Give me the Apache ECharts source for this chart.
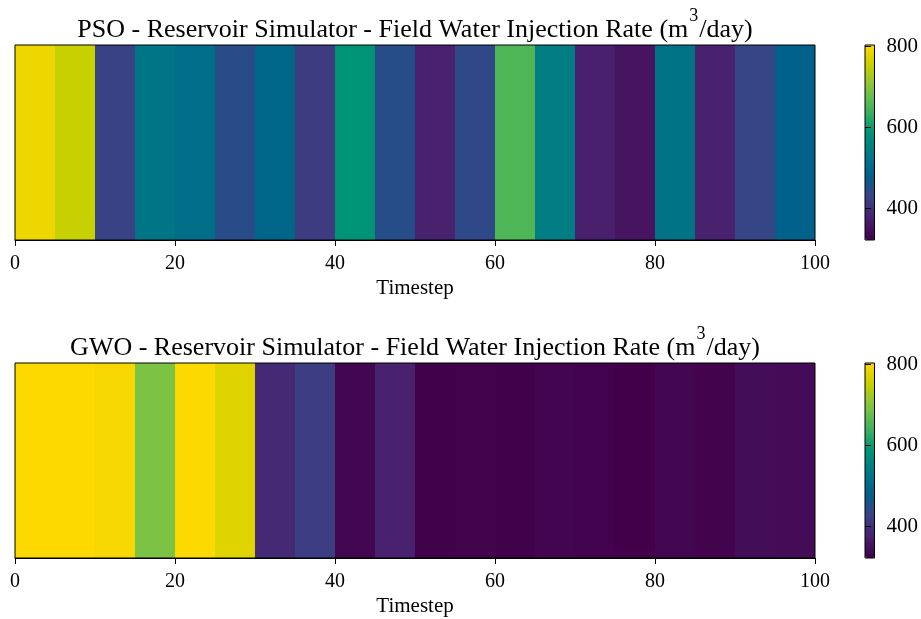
<!DOCTYPE html>
<html>
<head>
<meta charset="utf-8">
<script src="https://cdn.jsdelivr.net/npm/echarts@6/dist/echarts.min.js"></script>
<style>
  html, body { margin: 0; padding: 0; background: #ffffff; }
  #chart { width: 921px; height: 619px; }
</style>
</head>
<body>
<div id="chart"></div>
<script>
// Segment boundaries along the timestep axis (20 control intervals of 5 steps)
const timestepEdges = [0, 5, 10, 15, 20, 25, 30, 35, 40, 45, 50, 55, 60, 65, 70, 75, 80, 85, 90, 95, 100];

// Field water injection rate per interval (m3/day)
const psoRates = [790, 753, 428, 526, 512, 446, 497, 418, 590, 448,
                  377, 439, 656, 544, 376, 355, 522, 377, 433, 486];
const gwoRates = [804, 804, 797, 693, 803, 777, 391, 420, 332, 377,
                  324, 325, 323, 330, 326, 322, 332, 327, 343, 340];

// Shared colour scale limits and colour bar ticks
const rateMin = 322;
const rateMax = 804;
const colorbarTicks = [400, 600, 800];

// x axis ticks
const xMin = 0;
const xMax = 100;
const xInterval = 20;

// viridis-style ramp, dark purple -> teal -> yellow
const rampColors = ['#42004a', '#48206e', '#3a4386', '#005f8b', '#007a85',
                    '#009477', '#40b25e', '#80c343', '#c4d000', '#fdd900'];

const FONT = '"Liberation Serif", "DejaVu Serif", serif';

function toSegments(rates) {
  return rates.map((v, i) => [timestepEdges[i], timestepEdges[i + 1], v]);
}

function renderSegment(params, api) {
  const p0 = api.coord([api.value(0), 1]);
  const p1 = api.coord([api.value(1), 0]);
  return {
    type: 'rect',
    shape: { x: p0[0], y: p0[1], width: p1[0] - p0[0], height: p1[1] - p0[1] },
    style: { fill: api.visual('color') }
  };
}

function titleName(method) {
  return '{t|' + method + ' - Reservoir Simulator - Field Water Injection Rate (m}{s|3}{t|/day)}';
}

const titleStyle = {
  color: '#000',
  fontFamily: FONT,
  fontSize: 26,
  rich: {
    t: { fontFamily: FONT, fontSize: 26, color: '#000' },
    s: { fontFamily: FONT, fontSize: 18, color: '#000', padding: [0, 1, 28, 1] }
  }
};

const plotBoxes = [
  { left: 15, top: 45, width: 800, height: 195 },
  { left: 15, top: 363, width: 800, height: 195 }
];
const barBoxes = [
  { left: 865, top: 45, width: 10, height: 195 },
  { left: 865, top: 363, width: 10, height: 195 }
];

const grids = [];
const xAxes = [];
const yAxes = [];
const visualMaps = [];
const series = [];
const methods = ['PSO', 'GWO'];
const rateSets = [psoRates, gwoRates];

methods.forEach((m, k) => {
  const plotGrid = grids.length;
  grids.push(Object.assign({ show: true, borderColor: '#000', borderWidth: 1, backgroundColor: 'transparent', z: 10 }, plotBoxes[k]));
  // bottom timestep axis
  xAxes.push({
    gridIndex: plotGrid, type: 'value', position: 'bottom',
    min: xMin, max: xMax, interval: xInterval,
    axisLine: { show: true, lineStyle: { color: '#000', width: 1 } },
    axisTick: { show: true, inside: false, length: 6, lineStyle: { color: '#000' } },
    axisLabel: { color: '#000', fontFamily: FONT, fontSize: 20, margin: 14 },
    splitLine: { show: false },
    name: 'Timestep', nameLocation: 'middle', nameGap: 38,
    nameTextStyle: { color: '#000', fontFamily: FONT, fontSize: 21 },
    z: 10
  });
  // top axis carrying the panel title
  xAxes.push({
    gridIndex: plotGrid, type: 'value', position: 'top',
    min: xMin, max: xMax,
    axisLine: { show: false }, axisTick: { show: false }, axisLabel: { show: false },
    splitLine: { show: false },
    name: titleName(m), nameLocation: 'middle', nameGap: -8,
    nameTextStyle: titleStyle
  });
  yAxes.push({
    gridIndex: plotGrid, type: 'value', min: 0, max: 1,
    axisLine: { show: false }, axisTick: { show: false }, axisLabel: { show: false },
    splitLine: { show: false }
  });

  series.push({
    type: 'custom',
    xAxisIndex: xAxes.length - 2,
    yAxisIndex: yAxes.length - 1,
    renderItem: renderSegment,
    encode: { x: [0, 1], y: -1 },
    data: toSegments(rateSets[k]),
    silent: true,
    z: 2
  });

  // colour bar axis
  const barGrid = grids.length;
  grids.push(Object.assign({ show: true, borderColor: '#000', borderWidth: 1, backgroundColor: 'transparent', z: 10 }, barBoxes[k]));
  xAxes.push({ gridIndex: barGrid, type: 'value', show: false, min: 0, max: 1 });
  yAxes.push({
    gridIndex: barGrid, type: 'value', position: 'right',
    min: rateMin, max: rateMax,
    axisLine: { show: false },
    axisTick: { show: true, inside: false, length: 6, customValues: colorbarTicks, lineStyle: { color: '#000' } },
    axisLabel: { show: true, customValues: colorbarTicks, color: '#000', fontFamily: FONT, fontSize: 21, margin: 12 },
    splitLine: { show: false },
    z: 10
  });

  visualMaps.push({
    type: 'continuous',
    seriesIndex: k,
    dimension: 2,
    min: rateMin, max: rateMax,
    inRange: { color: rampColors },
    orient: 'vertical',
    left: barBoxes[k].left, top: barBoxes[k].top,
    itemWidth: barBoxes[k].width, itemHeight: barBoxes[k].height,
    padding: 0,
    calculable: false,
    hoverLink: false,
    showLabel: false,
    text: null
  });
});

const chart = echarts.init(document.getElementById('chart'), null, { renderer: 'canvas' });
chart.setOption({
  animation: false,
  backgroundColor: '#ffffff',
  grid: grids,
  xAxis: xAxes,
  yAxis: yAxes,
  visualMap: visualMaps,
  series: series
});
</script>
</body>
</html>
